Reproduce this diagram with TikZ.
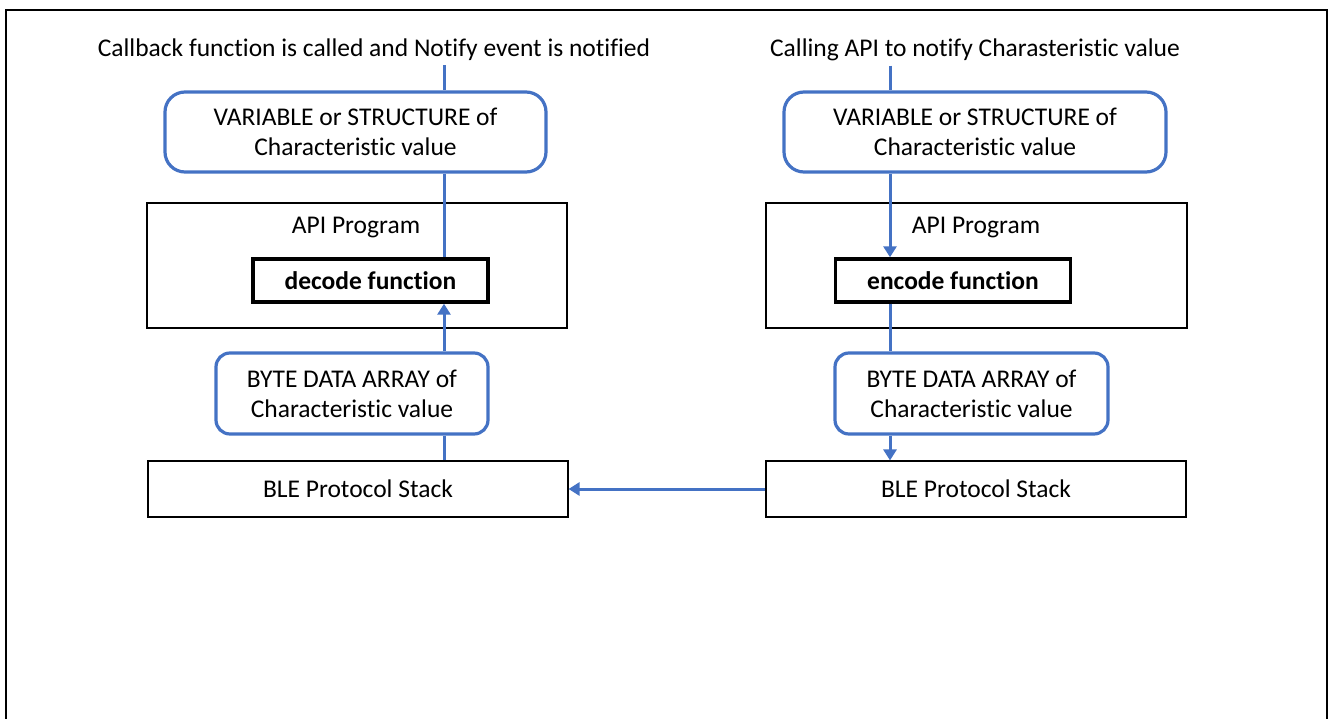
\documentclass[tikz,border=0pt]{standalone}
\usepackage{fontspec}
\setmainfont{Carlito}[Ligatures=NoCommon]
\usepackage{tikz}
\usetikzlibrary{arrows.meta}
\definecolor{lineblue}{RGB}{68,114,196}

\begin{document}
\begin{tikzpicture}[x=1pt, y=-1pt,
  font=\fontsize{25.5}{30}\selectfont,
  valuebox/.style={draw=lineblue, line width=3.2pt, rounded corners=20pt, align=center},
  progbox/.style={draw, line width=1.6pt},
  funcbox/.style={draw, line width=3.4pt, font=\fontsize{25.5}{30}\selectfont\bfseries},
  stackbox/.style={draw, line width=1.1pt},
  paths/.style={draw=lineblue, line width=3pt},
  arrowpaths/.style={paths, -{Triangle[length=11pt, width=13pt]}}]

 \useasboundingbox (0,0) rectangle (1328,719);
 \draw [line width=2.6pt] (6,719) -- (6,10) -- (1327,10) -- (1327,719);

 \coordinate (col_left) at (444,0);
 \coordinate (col_right) at (890,0);


 \node [inner sep=4pt, anchor=base] (title_left) at (374,57)
     {Callback function is called and Notify event is notified};

 \node [inner sep=4pt, anchor=base] (title_right) at (975,57)
     {Calling API to notify Charasteristic value};

 \node [valuebox, minimum width=381pt, minimum height=80pt] (var_left) at (355.5,132)
     {VARIABLE or STRUCTURE of\\Characteristic value};

 \node [valuebox, minimum width=382pt, minimum height=80pt] (var_right) at (975,132)
     {VARIABLE or STRUCTURE of\\Characteristic value};

 \node [progbox, minimum width=420pt, minimum height=125pt] (api_left) at (357,265.5) {};
 \node (api_left_text) at (356,228) {API Program};

 \node [progbox, minimum width=421pt, minimum height=125pt] (api_right) at (976.5,265.5) {};
 \node (api_right_text) at (976,228) {API Program};

 \node [funcbox, minimum width=235pt, minimum height=43pt] (decode) at (370.5,280.5)
     {decode function};

 \node [funcbox, minimum width=235pt, minimum height=43pt] (encode) at (953,280.5)
     {encode function};

 \node [valuebox, rounded corners=14pt, minimum width=272pt, minimum height=81pt] (byte_left) at (352,393.5)
     {BYTE DATA ARRAY of\\Characteristic value};

 \node [valuebox, rounded corners=14pt, minimum width=273pt, minimum height=81pt] (byte_right) at (971.5,393.5)
     {BYTE DATA ARRAY of\\Characteristic value};

 \node [stackbox, minimum width=420pt, minimum height=56pt] (ble_left) at (358,489)
     {BLE Protocol Stack};

 \node [stackbox, minimum width=420pt, minimum height=56pt] (ble_right) at (976,489)
     {BLE Protocol Stack};



 \draw [paths] (title_left.south -| col_left) -- (var_left.north -| col_left);
 \draw [paths] (var_left.south -| col_left) -- (decode.north -| col_left);
 \draw [arrowpaths] (byte_left.north -| col_left) -- (decode.south -| col_left);
 \draw [paths] (byte_left.south -| col_left) -- (ble_left.north -| col_left);

 \draw [paths] (title_right.south -| col_right) -- (var_right.north -| col_right);
 \draw [arrowpaths] (var_right.south -| col_right) -- (encode.north -| col_right);
 \draw [paths] (encode.south -| col_right) -- (byte_right.north -| col_right);
 \draw [arrowpaths] (byte_right.south -| col_right) -- (ble_right.north -| col_right);

 \draw [arrowpaths] (ble_right.west) -- (ble_left.east);


 \end{tikzpicture}
\end{document}
